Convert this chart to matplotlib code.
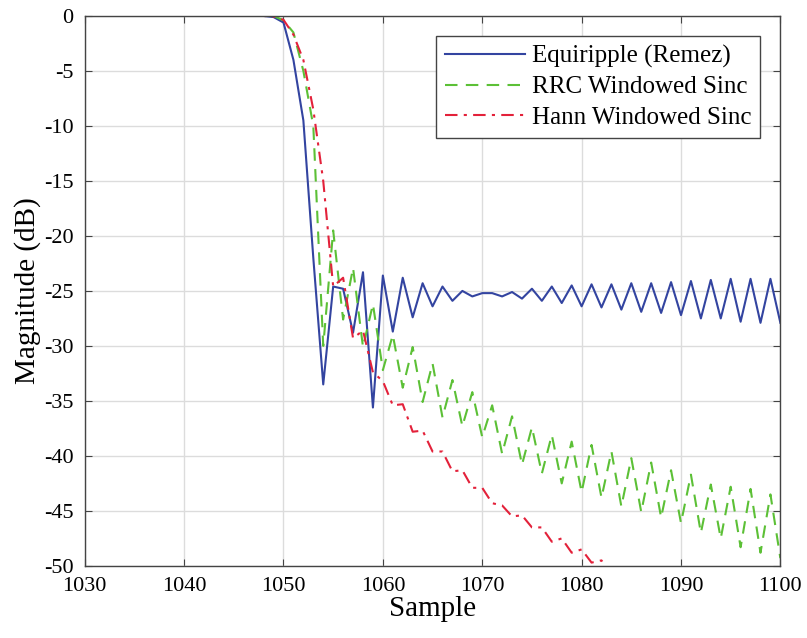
import matplotlib
matplotlib.use("Agg")
import matplotlib.pyplot as plt
import numpy as np

plt.rcParams['font.family'] = ['Liberation Serif', 'DejaVu Serif']
plt.rcParams['axes.unicode_minus'] = False

samples = list(range(1030, 1101))

equiripple = [0.0]*19 + [-0.1, -0.6, -4.0, -9.5, -22.0, -33.5, -24.6, -24.8, -28.8, -23.3,
    -35.6, -23.6, -28.7, -23.8, -27.4, -24.3, -26.4, -24.6, -25.9, -25.0,
    -25.5, -25.2, -25.2, -25.5, -25.1, -25.7, -24.8, -25.9, -24.6, -26.1,
    -24.5, -26.4, -24.4, -26.5, -24.4, -26.7, -24.3, -26.9, -24.3, -27.0,
    -24.2, -27.2, -24.1, -27.5, -24.0, -27.5, -23.9, -27.8, -23.9, -27.9,
    -23.9, -27.9]

rrc = [0.0]*20 + [-0.4, -1.5, -5.0, -10.0, -30.0, -19.5, -27.6, -22.9, -30.1, -26.2,
    -32.2, -29.0, -33.8, -30.1, -35.1, -31.6, -36.5, -33.1, -37.3, -34.2,
    -38.3, -35.4, -39.8, -36.4, -40.8, -37.4, -41.6, -38.1, -42.5, -38.7,
    -43.3, -39.0, -43.8, -39.6, -44.6, -40.2, -45.1, -40.6, -45.6, -41.3,
    -46.1, -41.7, -47.0, -42.6, -47.5, -42.8, -48.3, -43.0, -48.8, -43.5,
    -49.3]

hann_samples = list(range(1030, 1084))
hann = [0.0]*19 + [-0.05, -0.35, -1.7, -4.0, -8.5, -15.0, -24.6, -23.8, -29.3, -28.6,
    -32.4, -33.2, -35.4, -35.3, -37.8, -37.7, -39.6, -39.6, -41.4, -41.3,
    -42.9, -42.9, -44.3, -44.5, -45.5, -45.4, -46.5, -46.5, -47.8, -47.5,
    -48.8, -48.5, -49.7, -49.5, -50.8]

labels = ['Equiripple (Remez)', 'RRC Windowed Sinc', 'Hann Windowed Sinc']

fig = plt.figure(figsize=(8.07, 6.38), dpi=100)
ax = fig.add_axes([0.105, 0.113, 0.862, 0.862])

ax.plot(samples, equiripple, '-', color='#3344a0', lw=1.5, label=labels[0])
ax.plot(samples, rrc, '--', color='#5cc036', lw=1.5, dashes=(6, 4), label=labels[1])
ax.plot(hann_samples, hann, '-.', color='#e3213a', lw=1.5, dashes=(6, 3, 1.5, 3), label=labels[2])

ax.set_xlim(1030, 1100)
ax.set_ylim(-50, 0)
ax.set_xticks(range(1030, 1101, 10))
ax.set_yticks(range(-50, 1, 5))
ax.grid(True, color='#dcdcdc', lw=1.0)
ax.set_axisbelow(True)
ax.tick_params(direction='in', top=True, right=True, labelsize=16, length=5,
               color='#444444', pad=8)
for s in ax.spines.values():
    s.set_color('#444444')
    s.set_linewidth(1.0)
ax.set_xlabel('Sample', fontsize=21, labelpad=0)
ax.set_ylabel('Magnitude (dB)', fontsize=21, labelpad=2)

leg = ax.legend(loc='upper right', fontsize=18, fancybox=False, framealpha=1,
                edgecolor='#444444', handlelength=3.2, borderaxespad=0.8,
                labelspacing=0.32, handletextpad=0.3, borderpad=0.35)
leg.get_frame().set_linewidth(1.0)

fig.savefig('out.png', dpi=100)
